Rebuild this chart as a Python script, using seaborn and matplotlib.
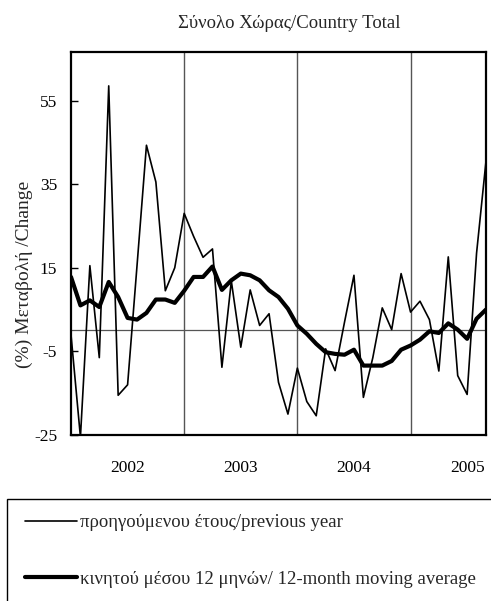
import numpy as np
import pandas as pd
import matplotlib
matplotlib.use("Agg")
import matplotlib.pyplot as plt
import matplotlib.patches as mpatches
import seaborn as sns

# monthly index, Jan 2002 .. Sep 2005
months = list(range(45))

# % change on previous year
prev_year = [-1, -25.5, 15.5, -6.5, 58.5, -15.5, -13, 15.5, 44.3, 35.5, 9.5, 15,
             28, 22.5, 17.5, 19.5, -8.8, 11.8, -4, 9.7, 1.2, 4, -12.4, -20,
             -9, -17, -20.4, -4.4, -9.6, 2, 13.2, -16, -6.5, 5.4, 0.2, 13.6,
             4.4, 7, 2.6, -9.7, 17.6, -10.8, -15.3, 18.5, 40.5]

# 12-month moving average
moving_avg = [12.8, 6, 7.2, 5.6, 11.6, 8, 3, 2.6, 4.2, 7.4, 7.4, 6.6,
              9.5, 12.8, 12.8, 15.3, 9.7, 12, 13.6, 13.2, 12, 9.6, 8, 5.2,
              1.2, -0.8, -3.2, -5.2, -5.6, -5.8, -4.6, -8.4, -8.4, -8.4, -7.3, -4.6,
              -3.6, -2.2, -0.2, -0.6, 1.7, 0.2, -2, 2.8, 5]

year_labels = ["2002", "2003", "2004", "2005"]
y_ticks = [-25, -5, 15, 35, 55]

label_prev = "προηγούμενου έτους/previous year"
label_ma = "κινητού μέσου 12 μηνών/ 12-month moving average"

df = pd.DataFrame({"month": months, "prev": prev_year, "ma": moving_avg})

sns.set_theme(style="white")
plt.rcParams['font.family'] = ['Liberation Serif', 'DejaVu Serif']
plt.rcParams['axes.unicode_minus'] = False

W, H = 491, 601
fig = plt.figure(figsize=(W / 100, H / 100), dpi=100)
ax = fig.add_axes([71 / W, 1 - 435 / H, 415 / W, 383 / H])

sns.lineplot(data=df, x="month", y="prev", color="black", linewidth=1.2, ax=ax, label=label_prev)
sns.lineplot(data=df, x="month", y="ma", color="black", linewidth=3.0, ax=ax, label=label_ma)

ax.axhline(0, color="#555555", linewidth=0.9, zorder=1)
for k in range(1, len(year_labels)):
    ax.axvline(12 * k, color="#555555", linewidth=1.0, zorder=1)

ax.set_xlim(0, 44)
ax.set_ylim(-25, 66.6)
ax.set_yticks(y_ticks)
ax.set_xticks([6 + 12 * k for k in range(len(year_labels))])
ax.set_xticklabels(year_labels)
ax.tick_params(axis="x", length=0, pad=18, labelsize=12.5, colors="black")
ax.tick_params(axis="y", direction="in", length=5, width=1, pad=10, labelsize=12.5, colors="black", left=True)
for s in ax.spines.values():
    s.set_color("black")
    s.set_linewidth(1.6)

ax.set_xlabel("")
ax.set_ylabel("(%) Μεταβολή /Change", fontsize=14)
ax.yaxis.set_label_coords(-0.092, 0.42)

fig.text(289 / W, 1 - 23 / H, "Σύνολο Χώρας/Country Total", ha="center", va="center", fontsize=13.5)

handles, labels = ax.get_legend_handles_labels()
ax.get_legend().remove()
fig.legend(handles, labels, loc="upper left", bbox_to_anchor=(25 / W, 1 - 514 / H),
           frameon=False, fontsize=13.5, borderpad=0, borderaxespad=0,
           handlelength=2.77, handletextpad=0.15, labelspacing=2.1)
fig.patches.append(mpatches.Rectangle((7 / W, -0.05), 1.0, 0.05 + 1 - 499 / H,
                                      transform=fig.transFigure, fill=False,
                                      edgecolor="black", linewidth=1.0))

fig.savefig("out.png", dpi=100)
